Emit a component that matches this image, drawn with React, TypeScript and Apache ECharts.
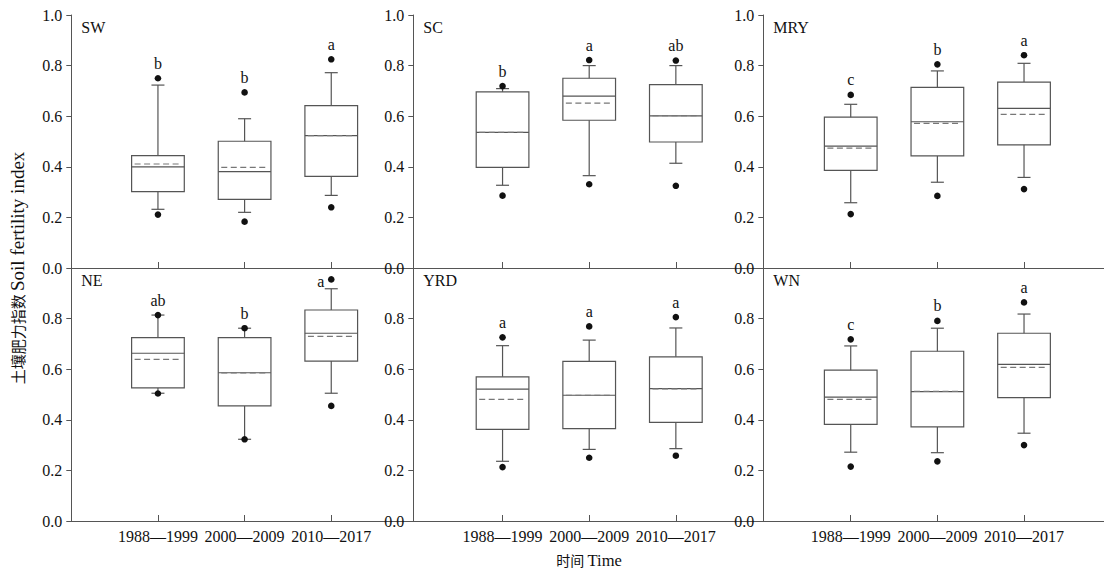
import React, { useEffect, useRef } from "react";
import * as echarts from "echarts";

const PERIODS = ["1988—1999", "2000—2009", "2010—2017"];
const REGIONS = ["SW", "SC", "MRY", "NE", "YRD", "WN"];

// each row: [low dot, lower whisker, Q1, median, Q3, upper whisker, high dot, mean]
const SW = [
  [0.211, 0.232, 0.302, 0.4, 0.444, 0.723, 0.75, 0.411],
  [0.183, 0.22, 0.271, 0.381, 0.501, 0.59, 0.694, 0.398],
  [0.24, 0.287, 0.362, 0.523, 0.642, 0.772, 0.825, 0.523],
];
const SC = [
  [0.286, 0.327, 0.398, 0.536, 0.696, 0.709, 0.719, 0.536],
  [0.331, 0.365, 0.584, 0.679, 0.75, 0.8, 0.822, 0.652],
  [0.325, 0.414, 0.498, 0.601, 0.725, 0.8, 0.82, 0.602],
];
const MRY = [
  [0.213, 0.258, 0.386, 0.482, 0.596, 0.647, 0.684, 0.474],
  [0.285, 0.339, 0.443, 0.578, 0.714, 0.779, 0.805, 0.572],
  [0.312, 0.358, 0.487, 0.631, 0.735, 0.809, 0.841, 0.607],
];
const NE = [
  [0.504, 0.505, 0.526, 0.663, 0.725, 0.814, 0.814, 0.639],
  [0.323, 0.323, 0.455, 0.586, 0.725, 0.762, 0.762, 0.585],
  [0.455, 0.505, 0.632, 0.742, 0.834, 0.918, 0.955, 0.73],
];
const YRD = [
  [0.213, 0.236, 0.362, 0.521, 0.57, 0.693, 0.726, 0.481],
  [0.25, 0.283, 0.365, 0.497, 0.631, 0.715, 0.769, 0.497],
  [0.258, 0.286, 0.39, 0.523, 0.649, 0.763, 0.806, 0.522],
];
const WN = [
  [0.215, 0.272, 0.382, 0.49, 0.596, 0.692, 0.718, 0.481],
  [0.236, 0.27, 0.372, 0.511, 0.671, 0.762, 0.791, 0.512],
  [0.3, 0.347, 0.488, 0.619, 0.742, 0.818, 0.864, 0.607],
];

const SW_LETTERS = ["b", "b", "a"];
const SC_LETTERS = ["b", "a", "ab"];
const MRY_LETTERS = ["c", "b", "a"];
const NE_LETTERS = ["ab", "b", "a"];
const YRD_LETTERS = ["a", "a", "a"];
const WN_LETTERS = ["c", "b", "a"];

const Y_TICKS_TOP = [0, 0.2, 0.4, 0.6, 0.8, 1.0];
const Y_TICKS_BOTTOM = [0, 0.2, 0.4, 0.6, 0.8];

const STATS = [SW, SC, MRY, NE, YRD, WN];
const LETTERS = [SW_LETTERS, SC_LETTERS, MRY_LETTERS, NE_LETTERS, YRD_LETTERS, WN_LETTERS];

// layout
const COLS = [
  { left: 71.3, width: 346.6, min: 0, max: 4 },
  { left: 413.3, width: 346.6, min: -0.03, max: 3.97 },
  { left: 763.3, width: 340.7, min: -0.009, max: 3.923 },
];
const ROWS = [
  { top: 15, height: 253 },
  { top: 268, height: 253 },
];

const SERIF = "'Liberation Serif', 'Times New Roman', serif";
const CJK = "'Noto Sans CJK SC', sans-serif";
const EDGE = "#555";

export default function App() {
  const ref = useRef<HTMLDivElement>(null);

  useEffect(() => {
    if (!ref.current) return;
    const chart = echarts.init(ref.current, undefined, { renderer: "svg" });

    const grids: any[] = [];
    const xAxes: any[] = [];
    const yAxes: any[] = [];
    const series: any[] = [];
    const graphics: any[] = [];

    for (let i = 0; i < 6; i++) {
      const row = ROWS[Math.floor(i / 3)];
      const col = COLS[i % 3];
      const bottomRow = i >= 3;
      grids.push({ left: col.left, top: row.top, width: col.width, height: row.height, containLabel: false });
      xAxes.push({
        type: "value",
        gridIndex: i,
        min: col.min,
        max: col.max,
        axisLine: { show: true, onZero: false, lineStyle: { color: EDGE, width: 1 } },
        axisTick: { show: true, inside: true, length: 6, customValues: [1, 2, 3], lineStyle: { color: EDGE } },
        axisLabel: {
          show: bottomRow,
          customValues: [1, 2, 3],
          formatter: (v: number) => PERIODS[Math.round(v) - 1] || "",
          fontFamily: SERIF,
          fontSize: 16,
          color: "#111",
          margin: 7,
        },
        splitLine: { show: false },
      });
      const yTicks = bottomRow ? Y_TICKS_BOTTOM : Y_TICKS_TOP;
      yAxes.push({
        type: "value",
        gridIndex: i,
        min: 0,
        max: 1,
        interval: 0.2,
        axisLine: { show: true, onZero: false, lineStyle: { color: EDGE, width: 1 } },
        axisTick: { show: true, inside: false, length: 5, customValues: yTicks, lineStyle: { color: EDGE } },
        axisLabel: {
          customValues: yTicks,
          formatter: (v: number) => v.toFixed(1),
          fontFamily: SERIF,
          fontSize: 16,
          color: "#111",
          margin: 9,
        },
        splitLine: { show: false },
      });

      const stats = STATS[i];
      const letters = LETTERS[i];
      series.push({
        type: "custom",
        xAxisIndex: i,
        yAxisIndex: i,
        clip: false,
        data: stats.map((s, k) => [k + 1, ...s]),
        renderItem: (params: any, api: any) => {
          const x = api.value(0);
          const lo = api.value(1);
          const lw = api.value(2);
          const q1 = api.value(3);
          const med = api.value(4);
          const q3 = api.value(5);
          const uw = api.value(6);
          const hi = api.value(7);
          const mean = api.value(8);
          const band = api.size([1, 0])[0];
          const bw = band * 0.608;
          const cw = band * 0.15;
          const py = (v: number) => api.coord([x, v])[1];
          const cx = api.coord([x, 0])[0];
          const yq1 = py(q1), yq3 = py(q3), ymed = py(med), ymean = py(mean);
          const ylw = py(lw), yuw = py(uw), ylo = py(lo), yhi = py(hi);
          const ln = (x1: number, y1: number, x2: number, y2: number, style: any) => ({
            type: "line",
            shape: { x1, y1, x2, y2 },
            style: { stroke: EDGE, lineWidth: 1.2, ...style },
          });
          const cs = params.coordSys;
          const letter = letters[params.dataIndex];
          let tx = cx, ty = yhi - 15, align = "center";
          if (ty < cs.y + 8) {
            tx = cx - 7;
            ty = yhi + 2;
            align = "right";
          }
          return {
            type: "group",
            children: [
              ln(cx, yq3, cx, yuw, {}),
              ln(cx - cw / 2, yuw, cx + cw / 2, yuw, {}),
              ln(cx, yq1, cx, ylw, {}),
              ln(cx - cw / 2, ylw, cx + cw / 2, ylw, {}),
              {
                type: "rect",
                shape: { x: cx - bw / 2, y: yq3, width: bw, height: yq1 - yq3 },
                style: { fill: "none", stroke: EDGE, lineWidth: 1.2 },
              },
              ln(cx - bw / 2, ymed, cx + bw / 2, ymed, { stroke: "#555" }),
              ln(cx - bw / 2 + 3, ymean, cx + bw / 2 - 3, ymean, { stroke: "#777", lineDash: [6, 3.5] }),
              { type: "circle", shape: { cx, cy: ylo, r: 3.3 }, style: { fill: "#111" } },
              { type: "circle", shape: { cx, cy: yhi, r: 3.3 }, style: { fill: "#111" } },
              {
                type: "text",
                style: {
                  text: letter,
                  x: tx,
                  y: ty,
                  align,
                  verticalAlign: "middle",
                  fontFamily: SERIF,
                  fontSize: 16,
                  fill: "#111",
                },
              },
            ],
          };
        },
      });

      graphics.push({
        type: "text",
        x: col.left + 10,
        y: row.top + 12,
        style: {
          text: REGIONS[i],
          fontFamily: SERIF,
          fontSize: 16,
          fill: "#111",
          verticalAlign: "middle",
          align: "left",
        },
      });
    }

    graphics.push({
      type: "text",
      x: 17,
      y: 268,
      rotation: Math.PI / 2,
      style: {
        text: "{zh|土壤肥力指数} {en|Soil fertility index}",
        align: "center",
        verticalAlign: "middle",
        rich: {
          zh: { fontFamily: CJK, fontSize: 15, fill: "#111" },
          en: { fontFamily: SERIF, fontSize: 19, fill: "#111" },
        },
      },
    });
    graphics.push({
      type: "text",
      x: 589,
      y: 560,
      style: {
        text: "{zh|时间} {en|Time}",
        align: "center",
        verticalAlign: "middle",
        rich: {
          zh: { fontFamily: CJK, fontSize: 14, fill: "#111" },
          en: { fontFamily: SERIF, fontSize: 16.5, fill: "#111" },
        },
      },
    });

    chart.setOption({
      animation: false,
      backgroundColor: "#fff",
      grid: grids,
      xAxis: xAxes,
      yAxis: yAxes,
      series,
      graphic: graphics,
    });
    return () => chart.dispose();
  }, []);

  return (
    <div
      ref={ref}
      style={{ position: "fixed", left: 0, top: 0, width: 1104, height: 572, background: "#fff" }}
    />
  );
}
